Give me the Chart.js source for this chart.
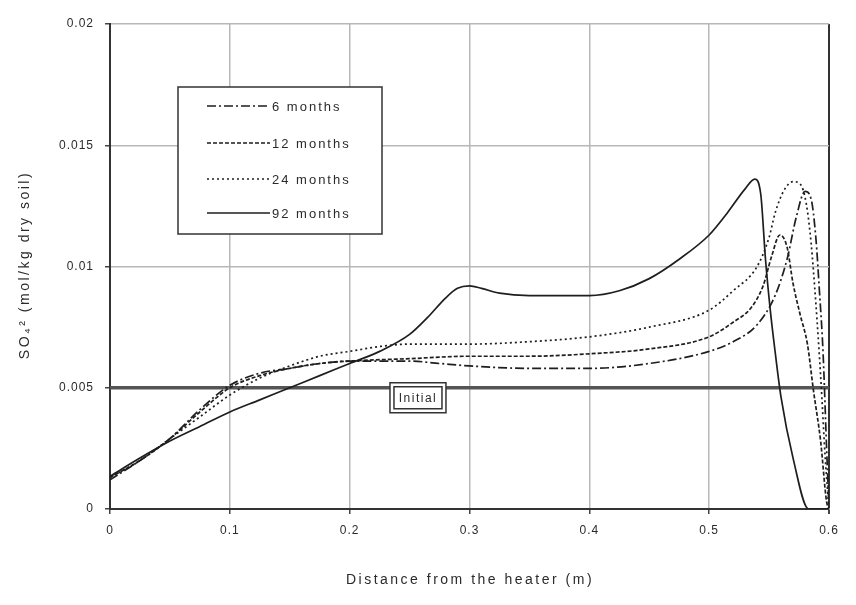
<!DOCTYPE html>
<html lang="en">
<head>
  <meta charset="UTF-8">
  <title>SO4 profile vs distance from the heater</title>

  <!-- Chart.js -->
  <script src="https://cdn.jsdelivr.net/npm/chart.js"></script>

  <style>
    html, body { margin: 0; padding: 0; background: #fff; }
  </style>
</head>
<body>

  <canvas id="so4Chart" width="856" height="605"></canvas>

  <script>
    // Values: distance (m) and SO4 (mol/kg dry soil)
    const dist6 = [0, 0.025, 0.05, 0.075, 0.1, 0.125, 0.15, 0.175, 0.2, 0.25, 0.275, 0.3, 0.35, 0.4, 0.45, 0.5, 0.52, 0.54, 0.555, 0.565, 0.573, 0.58, 0.585, 0.589, 0.592, 0.595, 0.598, 0.6];
    const so4_6 = [0.0012, 0.0020, 0.0029, 0.0041, 0.0051, 0.0056, 0.0058, 0.0060, 0.0061, 0.0061, 0.0060, 0.0059, 0.0058, 0.0058, 0.0060, 0.0065, 0.0069, 0.0076, 0.0088, 0.0103, 0.0121, 0.0131, 0.0128, 0.0112, 0.0090, 0.0065, 0.0025, 0];

    const dist12 = [0, 0.025, 0.05, 0.075, 0.1, 0.125, 0.15, 0.175, 0.2, 0.25, 0.3, 0.35, 0.4, 0.45, 0.5, 0.52, 0.535, 0.545, 0.552, 0.559, 0.565, 0.57, 0.576, 0.582, 0.587, 0.593, 0.598, 0.6];
    const so4_12 = [0.0013, 0.0020, 0.0029, 0.0040, 0.0050, 0.0055, 0.0058, 0.0060, 0.0061, 0.0062, 0.0063, 0.0063, 0.0064, 0.0066, 0.0071, 0.0077, 0.0083, 0.0092, 0.0104, 0.0113, 0.0108, 0.0093, 0.0080, 0.0068, 0.0049, 0.0028, 0.0003, 0];

    const dist24 = [0, 0.025, 0.05, 0.075, 0.1, 0.125, 0.15, 0.175, 0.2, 0.225, 0.25, 0.3, 0.35, 0.4, 0.45, 0.5, 0.52, 0.54, 0.55, 0.555, 0.562, 0.57, 0.576, 0.581, 0.585, 0.589, 0.593, 0.597, 0.6];
    const so4_24 = [0.0013, 0.0020, 0.0029, 0.0038, 0.0047, 0.0054, 0.0059, 0.0063, 0.0065, 0.0067, 0.0068, 0.0068, 0.0069, 0.0071, 0.0075, 0.0082, 0.0090, 0.0100, 0.0112, 0.0122, 0.0131, 0.0135, 0.0134, 0.0126, 0.0110, 0.0085, 0.0055, 0.0020, 0];

    const dist92 = [0, 0.025, 0.05, 0.075, 0.1, 0.125, 0.15, 0.175, 0.2, 0.225, 0.25, 0.265, 0.28, 0.29, 0.3, 0.31, 0.325, 0.35, 0.375, 0.4, 0.425, 0.45, 0.475, 0.5, 0.515, 0.53, 0.538, 0.543, 0.547, 0.551, 0.555, 0.56, 0.57, 0.583, 0.6];
    const so4_92 = [0.00135, 0.0021, 0.0028, 0.0034, 0.0040, 0.0045, 0.0050, 0.0055, 0.0060, 0.0065, 0.0072, 0.0079, 0.0087, 0.0091, 0.0092, 0.0091, 0.0089, 0.0088, 0.0088, 0.0088, 0.0090, 0.0095, 0.0103, 0.0113, 0.0122, 0.0132, 0.0136, 0.0130, 0.0103, 0.0082, 0.0065, 0.0046, 0.0021, 0, 0];

    const initialValue = 0.005;
    const seriesNames = ['6 months', '12 months', '24 months', '92 months'];
    const xTickLabels = ['0', '0.1', '0.2', '0.3', '0.4', '0.5', '0.6'];
    const yTickLabels = ['0', '0.005', '0.01', '0.015', '0.02'];

    const FONT = "'Liberation Sans', Arial, sans-serif";
    const TEXT = '#2b2b2b';

    function toPoints(xs, ys) {
      return xs.map((x, i) => ({ x: x, y: ys[i] }));
    }

    function curve(label, xs, ys, dash) {
      return {
        label: label,
        data: toPoints(xs, ys),
        borderColor: '#1e1e1e',
        borderWidth: 1.7,
        borderDash: dash,
        pointRadius: 0,
        cubicInterpolationMode: 'monotone',
        fill: false
      };
    }

    // Legend box, "Initial" tag and axis titles drawn on top of the plot
    const overlay = {
      id: 'overlay',
      beforeDraw(chart) {
        chart.ctx.letterSpacing = '1px';
      },
      afterDraw(chart) {
        const ctx = chart.ctx;
        const xs = chart.scales.x, ys = chart.scales.y;
        ctx.save();

        // legend
        ctx.fillStyle = '#fff';
        ctx.fillRect(178, 87, 204, 147);
        ctx.strokeStyle = '#333';
        ctx.lineWidth = 1.5;
        ctx.strokeRect(178, 87, 204, 147);
        ctx.font = '13px ' + FONT;
        ctx.letterSpacing = '2px';
        ctx.textBaseline = 'middle';
        ctx.textAlign = 'left';
        const rows = [106, 143, 179, 213];
        chart.data.datasets.slice(0, 4).forEach((ds, i) => {
          ctx.beginPath();
          ctx.setLineDash(ds.borderDash || []);
          ctx.strokeStyle = ds.borderColor;
          ctx.lineWidth = ds.borderWidth;
          ctx.moveTo(207, rows[i]);
          ctx.lineTo(270, rows[i]);
          ctx.stroke();
          ctx.setLineDash([]);
          ctx.fillStyle = TEXT;
          ctx.fillText(ds.label, 272, rows[i] + 1);
        });

        // "Initial" tag on the initial-value line
        const ix = xs.getPixelForValue(0.257);
        const iy = ys.getPixelForValue(initialValue) + 10;
        ctx.fillStyle = '#fff';
        ctx.fillRect(ix - 28, iy - 15, 56, 30);
        ctx.strokeStyle = '#333';
        ctx.lineWidth = 1.5;
        ctx.strokeRect(ix - 28, iy - 15, 56, 30);
        ctx.strokeRect(ix - 24, iy - 11, 48, 22);
        ctx.fillStyle = TEXT;
        ctx.font = '12px ' + FONT;
        ctx.letterSpacing = '1.5px';
        ctx.textAlign = 'center';
        ctx.fillText('Initial', ix, iy + 1);

        // axis titles
        ctx.font = '14px ' + FONT;
        ctx.letterSpacing = '2.5px';
        ctx.fillText('Distance from the heater (m)', 470, 580);
        ctx.translate(25, 265);
        ctx.rotate(-Math.PI / 2);
        ctx.letterSpacing = '2.5px';
        ctx.fillText('SO\u2084\u00B2 (mol/kg dry soil)', 0, 0);

        ctx.restore();
      }
    };

    const ctx = document.getElementById('so4Chart').getContext('2d');
    const so4Chart = new Chart(ctx, {
      type: 'line',
      data: {
        datasets: [
          curve(seriesNames[0], dist6, so4_6, [9, 3, 2, 3]),
          curve(seriesNames[1], dist12, so4_12, [4, 2]),
          curve(seriesNames[2], dist24, so4_24, [2, 3]),
          curve(seriesNames[3], dist92, so4_92, []),
          {
            label: 'Initial',
            data: [{ x: 0, y: initialValue }, { x: 0.6, y: initialValue }],
            borderColor: '#555',
            borderWidth: 3.5,
            pointRadius: 0
          }
        ]
      },
      options: {
        responsive: false,
        animation: false,
        layout: { padding: { top: 24, right: 27, left: 0, bottom: 0 } },
        plugins: {
          legend: { display: false },
          tooltip: { enabled: false }
        },
        scales: {
          x: {
            type: 'linear',
            min: 0,
            max: 0.6,
            afterFit: s => { s.height = 96; },
            ticks: {
              stepSize: 0.1,
              padding: 9,
              color: TEXT,
              font: { family: FONT, size: 12 },
              maxRotation: 0,
              callback: (v, i) => xTickLabels[i]
            },
            grid: {
              color: c => (c.tick && c.tick.value >= 0.6 - 1e-9) ? '#333' : '#b8b8b8',
              lineWidth: c => (c.tick && c.tick.value >= 0.6 - 1e-9) ? 2 : 1.5,
              tickColor: '#444',
              tickLength: 5
            },
            border: { display: true, color: '#333', width: 2 }
          },
          y: {
            min: 0,
            max: 0.02,
            afterFit: s => { s.width = 110; },
            ticks: {
              stepSize: 0.005,
              padding: 11,
              color: TEXT,
              font: { family: FONT, size: 12 },
              callback: (v, i) => yTickLabels[i]
            },
            grid: {
              color: '#b8b8b8',
              lineWidth: 1.5,
              tickColor: '#444',
              tickLength: 5
            },
            border: { display: true, color: '#333', width: 2 }
          }
        }
      },
      plugins: [overlay]
    });
  </script>

</body>
</html>
